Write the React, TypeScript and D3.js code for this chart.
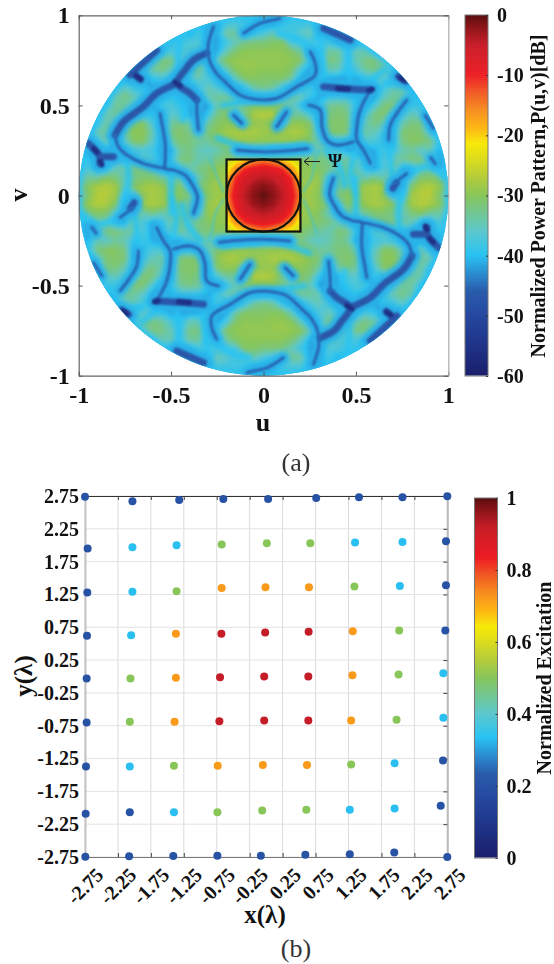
import React, { useEffect, useRef } from 'react';
import * as d3 from 'd3';

const FONT = '"Liberation Serif", "Times New Roman", serif';

// colormap stops (dB)
const cmapDb = [-60, -55, -50, -46, -43, -40, -36, -30, -27, -23, -21.5, -19, -16, -13, -10, -5, -2, 0];
const cmapColors = ['#1b1f6b', '#1f3388', '#25499f', '#2a5cab', '#2b8dd0', '#29c3f3', '#5cc7cc', '#88c65a', '#b5cc3a', '#e8e214', '#f7ea09', '#fdb913', '#f78f1e', '#f15a24', '#ed1c24', '#c81e28', '#8a1418', '#5a0f10'];

// my first reading of the lobes came out too dark, this pulls it back onto the colorbar
const readDepth = [27, 30, 36, 40, 44, 60];
const trueDepth = [27, 29, 32, 37, 41, 44];

// pattern depth in dB below peak, rows from v = 1 down to v = 0, step 0.05 in u and v
// short rows only hold the part inside the unit circle
const depthV100 = [44];
const depthV095 = [46,46,40,40,41,44,46,46,42,41,41,40,46];
const depthV090 = [44,41,46,44,37,37,46,42,40,38,40,41,39,38,44,48,50];
const depthV085 = [42,41,40,40,50,46,41,38,36,35,35,33,33,40,41,41,40,41,44,48,44];
const depthV080 = [50,44,40,40,40,39,48,44,38,34,31,31,31,31,31,33,37,47,42,37,37,41,38,38,42];
const depthV075 = [46,40,36,36,39,39,37,44,38,32,30,30,30,31,31,31,31,33,41,44,36,36,41,38,36,36,39];
const depthV070 = [46,41,37,36,38,44,38,36,42,46,38,32,30,30,31,31,31,33,40,46,42,38,38,42,40,37,36,37,41];
const depthV065 = [44,50,47,42,40,44,50,41,38,40,44,48,38,33,32,33,33,33,37,44,48,42,44,46,46,44,42,40,39,42,52];
const depthV060 = [42,39,41,42,47,47,48,50,44,41,38,40,43,47,42,37,36,37,41,48,43,41,44,50,51,50,46,46,50,41,38,39,44];
const depthV055 = [46,38,36,38,41,46,44,42,44,48,44,38,37,37,40,47,44,46,47,40,38,38,41,44,42,41,41,43,50,46,39,37,37,42,48];
const depthV050 = [42,37,37,40,44,46,41,40,42,47,52,46,38,35,37,36,32,32,32,34,38,42,47,42,37,36,37,42,48,40,35,35,40,42,41];
const depthV045 = [44,38,37,39,41,42,42,44,39,40,44,52,42,36,33,47,36,28,27,27,40,37,37,40,45,36,34,35,44,40,36,34,41,41,38,39,46];
const depthV040 = [42,37,40,38,33,33,40,50,37,35,38,47,37,33,31,31,39,30,30,35,47,31,30,33,44,34,33,34,44,38,36,38,47,38,35,36,46];
const depthV035 = [44,38,37,44,37,31,31,38,48,36,33,36,40,35,31,29,28,28,28,29,30,30,28,28,31,41,36,33,35,44,37,38,41,47,35,33,34,40,44];
const depthV030 = [42,42,38,47,39,33,33,39,48,38,34,35,37,37,34,31,30,30,30,31,31,30,30,31,34,38,42,42,42,46,40,40,42,46,36,33,33,36,41];
const depthV025 = [47,52,44,42,44,41,40,41,47,44,37,36,38,39,38,36,44,46,44,44,44,44,44,46,42,38,38,40,44,48,46,44,41,42,38,37,39,38,44];
const depthV020 = [42,42,48,46,41,45,40,38,40,44,42,36,35,38,37,36,33,33,33,33,33,33,33,33,33,33,35,36,38,37,38,44,48,40,38,37,35,36,40,46,44];
const depthV015 = [42,40,46,44,38,37,36,36,38,43,44,40,38,36,34,31,30,30,30,30,30,30,30,30,30,31,33,36,38,36,38,42,46,40,37,44,44,38,38,44,42];
const depthV010 = [40,37,37,33,35,38,36,34,34,37,38,38,44,38,33,30,30,30,30,30,30,30,30,30,30,31,30,40,36,35,37,38,36,38,38,48,40,34,33,36,40];
const depthV005 = [38,32,28,27,29,38,33,29,28,30,35,33,42,36,31,29,30,30,30,30,30,30,30,30,30,28,30,42,38,33,33,29,28,29,44,46,34,28,27,30,38];
const depthV000 = [40,33,27,27,29,42,42,31,28,29,33,33,36,40,32,29,30,30,30,30,30,30,30,30,30,29,32,40,36,33,33,29,28,31,42,42,29,27,27,33,40];

const upperRows = [depthV100, depthV095, depthV090, depthV085, depthV080, depthV075, depthV070, depthV065, depthV060, depthV055, depthV050, depthV045, depthV040, depthV035, depthV030, depthV025, depthV020, depthV015, depthV010, depthV005];

// main beam inside the square, u and v from -0.2 to 0.2
const beamV020 = [25,23,20,17,15,17,20,23,25];
const beamV015 = [23,16,11,9,8,9,11,16,23];
const beamV010 = [20,11,6.5,5,4,5,6.5,11,20];
const beamV005 = [17,9,5,2.5,1.5,2.5,5,9,17];
const beamV000 = [15,8,4,1.5,0,1.5,4,8,15];

// nulls of the pattern, too thin for the 0.05 grid: [u, v] along each valley, upper half
const thinNulls: number[][][] = [
  [[-0.27,0.937],[-0.298,0.844],[-0.298,0.77],[-0.262,0.687],[-0.208,0.631],[-0.126,0.557],[-0.036,0.533],[0.072,0.539],[0.18,0.604],[0.28,0.669],[0.28,0.733],[0.253,0.798]],
  [[-0.108,0.9],[-0.018,0.956],[0.054,0.974],[0.09,0.983]],
  [[-0.36,0.53],[-0.361,0.474],[-0.352,0.363]],
  [[-0.56,0.456],[-0.55,0.4],[-0.532,0.289],[-0.532,0.196],[-0.532,0.15],[-0.487,0.141],[-0.424,0.113],[-0.379,0.048],[-0.357,-0.007],[-0.379,-0.099]],
  [[-0.803,0.335],[-0.785,0.27],[-0.731,0.219],[-0.65,0.178],[-0.532,0.15]],
  [[-0.162,0.446],[-0.117,0.4]],
  [[-0.144,0.252],[0,0.243],[0.15,0.25],[0.24,0.26]],
  [[0.243,0.502],[0.307,0.474],[0.316,0.381],[0.343,0.307],[0.397,0.28],[0.487,0.298]],
  [[0.578,0.585],[0.523,0.474],[0.505,0.381],[0.505,0.307],[0.541,0.252],[0.578,0.178]],
  [[0.126,0.465],[0.072,0.381]],
  [[0.776,0.53],[0.722,0.456],[0.686,0.391],[0.677,0.307]],
  [[0.704,0.067],[0.776,0.122]],
  [[0.905,0.21],[0.93,0.175]],
  [[0.875,0.446],[0.92,0.372]],
];
const wideNulls: number[][][] = [
  [[-0.69,0.665],[-0.665,0.645]],
  [[-0.469,0.622],[-0.578,0.567],[-0.65,0.493],[-0.758,0.409],[-0.803,0.335]],
  [[-0.307,0.789],[-0.379,0.752],[-0.424,0.696],[-0.469,0.622],[-0.4,0.57],[-0.361,0.53]],
  [[-0.948,0.289],[-0.885,0.215],[-0.885,0.178]],
  [[-0.885,0.215],[-0.812,0.215]],
  [[-0.722,0.669],[-0.578,0.807]],
  [[0.325,0.928],[0.47,0.863]],
  [[0.325,0.604],[0.433,0.594],[0.578,0.585]],
  [[0.73,0.66],[0.77,0.635]],
  [[0.7,0.04],[0.72,0.07]],
];
// the deepest spots where valleys meet
const deepSpots: number[][][] = [
  [[-0.69,0.665],[-0.665,0.645]],
  [[-0.48,0.63],[-0.45,0.61]],
  [[-0.92,0.26],[-0.9,0.24]],
  [[-0.885,0.19],[-0.875,0.17]],
  [[0.4,0.595],[0.46,0.59]],
  [[0.57,0.585],[0.59,0.59]],
  [[0.74,0.655],[0.76,0.64]],
];
// valleys that stay light blue, they only ring the lobes
const paleNulls: number[][][] = [
  [[0.46,0.86],[0.46,0.74],[0.47,0.62]],
  [[0.3,0.9],[0.31,0.8],[0.33,0.65]],
  [[0.08,0.9],[0.2,0.86],[0.26,0.8]],
  [[0.66,0.7],[0.58,0.63],[0.55,0.5]],
  [[0.72,0.62],[0.66,0.62]],
  [[0.5,0.25],[0.47,0.12],[0.5,0]],
  [[0.68,0.3],[0.69,0.15],[0.72,0.04]],
  [[0.8,0.13],[0.9,0.16],[0.98,0.1]],
  [[-0.88,0.52],[-0.74,0.72],[-0.62,0.84]],
  [[-0.66,0.52],[-0.52,0.58],[-0.42,0.52],[-0.44,0.42]],
  [[-0.45,0.9],[-0.46,0.72],[-0.42,0.62]],
  [[-0.74,0.2],[-0.73,0.08],[-0.76,-0.04]],
  [[-0.5,0.14],[-0.5,0.02],[-0.5,-0.1]],
  [[-0.22,0.5],[-0.06,0.53]],
  [[-0.25,0.32],[-0.1,0.26]],
  [[0.03,0.26],[0.22,0.28]],
  [[0.34,0.25],[0.41,0.16],[0.44,0.05]],
];
// pale seam next to the square
const paleSeams: number[][][] = [
  [[-0.217,0.025],[-0.25,0.1],[-0.27,0.155],[-0.29,0.21]],
  [[0.217,0.025],[0.26,0.1],[0.28,0.2],[0.3,0.25]],
];

const patternTicks = [-1, -0.5, 0, 0.5, 1];
const dbTicks = [0, -10, -20, -30, -40, -50, -60];

// array element positions in wavelengths, one row per y
const elemX = [
  [-2.75,-2.03,-1.32,-0.65,0.03,0.76,1.41,2.07,2.75],
  [-2.71,-2.03,-1.36,-0.675,0.01,0.67,1.35,2.07,2.73],
  [-2.715,-2.03,-1.36,-0.675,-0.01,0.65,1.34,2.03,2.73],
  [-2.72,-2.05,-1.37,-0.68,-0.015,0.645,1.315,2.02,2.72],
  [-2.725,-2.06,-1.37,-0.70,-0.03,0.64,1.31,2.01,2.69],
  [-2.725,-2.07,-1.39,-0.71,-0.03,0.64,1.29,1.98,2.69],
  [-2.735,-2.07,-1.40,-0.735,-0.05,0.62,1.29,1.95,2.685],
  [-2.74,-2.07,-1.40,-0.74,-0.06,0.61,1.27,1.95,2.65],
  [-2.745,-2.08,-1.41,-0.74,-0.08,0.595,1.27,1.945,2.75],
];
const elemY = [
  [2.74,2.67,2.69,2.705,2.705,2.72,2.73,2.73,2.745],
  [1.95,1.97,2.0,2.01,2.03,2.03,2.04,2.05,2.06],
  [1.28,1.29,1.30,1.35,1.36,1.36,1.37,1.38,1.39],
  [0.62,0.63,0.65,0.65,0.67,0.68,0.69,0.70,0.70],
  [-0.03,-0.03,-0.02,-0.01,0.0,0.0,0.02,0.03,0.05],
  [-0.70,-0.69,-0.69,-0.68,-0.67,-0.67,-0.67,-0.66,-0.63],
  [-1.37,-1.37,-1.36,-1.36,-1.35,-1.35,-1.34,-1.32,-1.28],
  [-2.09,-2.07,-2.07,-2.07,-2.04,-2.03,-2.03,-2.01,-1.97],
  [-2.745,-2.74,-2.735,-2.73,-2.73,-2.715,-2.71,-2.68,-2.75],
];
const elemExc = [
  [0.2,0.2,0.2,0.2,0.2,0.2,0.2,0.2,0.2],
  [0.2,0.33,0.33,0.5,0.5,0.5,0.33,0.33,0.2],
  [0.2,0.33,0.5,0.72,0.72,0.72,0.5,0.33,0.2],
  [0.2,0.33,0.72,0.92,0.92,0.92,0.72,0.5,0.2],
  [0.2,0.5,0.72,0.92,0.92,0.92,0.72,0.5,0.33],
  [0.2,0.5,0.72,0.92,0.92,0.92,0.72,0.5,0.33],
  [0.2,0.33,0.5,0.72,0.72,0.72,0.5,0.33,0.2],
  [0.2,0.2,0.33,0.5,0.5,0.5,0.33,0.33,0.2],
  [0.2,0.2,0.2,0.2,0.2,0.2,0.2,0.2,0.2],
];
const lambdaTicks = [-2.75,-2.25,-1.75,-1.25,-0.75,-0.25,0.25,0.75,1.25,1.75,2.25,2.75];
const excTicks = [0, 0.2, 0.4, 0.6, 0.8, 1];

function padRow(row: number[], n: number, fill: number) {
  const side = (n - row.length) / 2;
  return [...Array(side).fill(fill), ...row, ...Array(side).fill(fill)];
}

// the pattern of a real excitation is point symmetric, so the lower half is the upper one turned round
function patternGrid() {
  const fix = d3.scaleLinear().domain(readDepth).range(trueDepth);
  const upper = upperRows.map(r => padRow(r, 41, 42));
  const lower = upper.slice().reverse().map(r => r.slice().reverse());
  return [...upper, depthV000, ...lower].flat().map(d => -fix(d));
}

function beamGrid() {
  const upper = [beamV020, beamV015, beamV010, beamV005];
  return [...upper, beamV000, ...upper.slice().reverse()].flat().map(d => -d);
}

export default function App() {
  const ref = useRef<SVGSVGElement>(null);

  useEffect(() => {
    const svg = d3.select(ref.current);
    svg.selectAll('*').remove();

    const dbColor = d3.scaleLinear<string>().domain(cmapDb).range(cmapColors).clamp(true);
    const excColor = (e: number) => dbColor(e * 60 - 60);

    const defs = svg.append('defs');
    const blur = (id: string, sd: number) => defs.append('filter').attr('id', id)
      .attr('filterUnits', 'userSpaceOnUse').attr('x', 60).attr('y', 0).attr('width', 410).attr('height', 400)
      .append('feGaussianBlur').attr('stdDeviation', sd);
    blur('soft', 1.4);
    blur('halo', 2);
    blur('mid', 1.2);
    blur('core', 0.8);

    // ---- (a) power pattern
    const u = d3.scaleLinear().domain([-1, 1]).range([78.7, 448.3]);
    const v = d3.scaleLinear().domain([-1, 1]).range([375.7, 15.3]);

    defs.append('clipPath').attr('id', 'disk').append('ellipse')
      .attr('cx', u(0)).attr('cy', v(0)).attr('rx', u(1) - u(0)).attr('ry', v(0) - v(1));
    defs.append('clipPath').attr('id', 'square').append('rect')
      .attr('x', u(-0.2)).attr('y', v(0.2)).attr('width', u(0.2) - u(-0.2)).attr('height', v(-0.2) - v(0.2));

    const thresholds = d3.range(-60, 0.25, 0.5);
    const drawField = (g: any, values: number[], n: number, u0: number, step: number) => {
      const project = d3.geoTransform({
        point(x: number, y: number) {
          (this as any).stream.point(u(u0 + (x - 0.5) * step), v(-u0 - (y - 0.5) * step));
        },
      });
      const path = d3.geoPath(project);
      g.selectAll('path')
        .data(d3.contours().size([n, n]).smooth(true).thresholds(thresholds)(values))
        .join('path')
        .attr('d', path as any)
        .attr('fill', (d: any) => dbColor(d.value));
    };

    const disk = svg.append('g').attr('clip-path', 'url(#disk)');
    disk.append('rect').attr('x', u(-1)).attr('y', v(1)).attr('width', u(1) - u(-1)).attr('height', v(-1) - v(1)).attr('fill', dbColor(-42));
    drawField(disk.append('g').attr('filter', 'url(#soft)'), patternGrid(), 41, -1, 0.05);

    // nulls, each one also turned round for the lower half
    const nullLine = d3.line<number[]>().x(d => u(d[0])).y(d => v(d[1])).curve(d3.curveCatmullRom.alpha(0.5));
    const both = (lines: number[][][]) => lines.flatMap(l => [l, l.map(p => [-p[0], -p[1]])]);
    const strokeNulls = (lines: number[][][], color: string, width: number, filter: string, opacity = 1) => {
      disk.append('g').attr('filter', `url(#${filter})`).attr('fill', 'none').attr('stroke-linecap', 'round').attr('stroke-linejoin', 'round')
        .selectAll('path').data(both(lines)).join('path')
        .attr('d', d => nullLine(d)).attr('stroke', color).attr('stroke-width', width).attr('opacity', opacity);
    };
    // light rim just inside the edge of the visible region
    disk.append('ellipse').attr('cx', u(0)).attr('cy', v(0)).attr('rx', u(1) - u(0)).attr('ry', v(0) - v(1))
      .attr('fill', 'none').attr('stroke', dbColor(-40)).attr('stroke-width', 6).attr('filter', 'url(#halo)').attr('opacity', 0.7);
    strokeNulls(paleSeams, dbColor(-40), 2.2, 'core', 0.5);
    strokeNulls(paleNulls, dbColor(-40), 6, 'halo', 0.9);
    strokeNulls(wideNulls, dbColor(-41), 17, 'halo');
    strokeNulls(thinNulls, dbColor(-41), 11, 'halo');
    strokeNulls(wideNulls, dbColor(-47), 7, 'mid');
    strokeNulls(thinNulls, dbColor(-44), 3, 'mid');
    strokeNulls(thinNulls, dbColor(-50), 1.1, 'core');
    strokeNulls(deepSpots, dbColor(-56), 5, 'mid');

    const beam = svg.append('g').attr('clip-path', 'url(#square)');
    drawField(beam.append('g'), beamGrid(), 9, -0.2, 0.05);

    const labelStyle = (g: any, size: number) => g.selectAll('text')
      .attr('font-family', FONT).attr('font-weight', 'bold').attr('font-size', size).attr('fill', '#111');

    const gA = svg.append('g');
    const axisA = (gen: any, dx: number, dy: number) => {
      const g = gA.append('g').attr('transform', `translate(${dx},${dy})`).call(gen);
      g.select('.domain').attr('stroke', '#666').attr('stroke-width', 1.2);
      g.selectAll('line').attr('stroke', '#555');
      return g;
    };
    const fmt = (d: any) => String(d);
    labelStyle(axisA(d3.axisLeft(v).tickValues(patternTicks).tickSize(-4).tickPadding(9).tickSizeOuter(0).tickFormat(fmt), u(-1), 0), 24);
    labelStyle(axisA(d3.axisBottom(u).tickValues(patternTicks).tickSize(-4).tickPadding(10).tickSizeOuter(0).tickFormat(fmt), 0, v(-1)), 24);
    axisA(d3.axisTop(u).tickValues(patternTicks).tickSize(-4).tickSizeOuter(0).tickFormat(() => ''), 0, v(1));
    axisA(d3.axisRight(v).tickValues(patternTicks).tickSize(-4).tickSizeOuter(0).tickFormat(() => ''), u(1), 0)
      .select('.domain').attr('stroke', '#aaa');

    // square and circle round the main beam
    svg.append('rect').attr('x', u(-0.2)).attr('y', v(0.2)).attr('width', u(0.2) - u(-0.2)).attr('height', v(-0.2) - v(0.2))
      .attr('fill', 'none').attr('stroke', '#111').attr('stroke-width', 2.2);
    svg.append('ellipse').attr('cx', u(0)).attr('cy', v(0)).attr('rx', u(0.2) - u(0)).attr('ry', v(0) - v(0.2))
      .attr('fill', 'none').attr('stroke', '#111').attr('stroke-width', 2.2);

    // Psi marker
    svg.append('path').attr('d', 'M320,161.5H304M309,157.5L304,161.5L309,165.5').attr('fill', 'none').attr('stroke', '#222').attr('stroke-width', 1);
    svg.append('text').attr('x', 335).attr('y', 167).attr('text-anchor', 'middle').attr('font-family', FONT)
      .attr('font-weight', 'bold').attr('font-size', 18).attr('fill', '#111').text('Ψ');

    const text = (s: string, x: number, y: number, size: number, rot = 0, weight = 'bold') =>
      svg.append('text').attr('transform', `translate(${x},${y}) rotate(${rot})`).attr('text-anchor', 'middle')
        .attr('font-family', FONT).attr('font-weight', weight).attr('font-size', size).attr('fill', '#111').text(s);

    text('u', 263, 431, 26);
    text('v', 27, 195, 26, -90);
    text('(a)', 296, 471, 26, 0, 'normal').attr('fill', '#333');

    // colorbars
    const colorbar = (scale: any, color: (d: number) => string, domain: number[], x0: number, x1: number, ticks: number[], size: number) => {
      const n = 180;
      d3.range(n).forEach(i => {
        const a = domain[0] + (domain[1] - domain[0]) * (i + 0.5) / n;
        const b = domain[0] + (domain[1] - domain[0]) * (i + 1.5) / n;
        svg.append('rect').attr('x', x0).attr('width', x1 - x0)
          .attr('y', scale(Math.min(b, domain[1]))).attr('height', Math.abs(scale(a) - scale(b)) + 0.6)
          .attr('fill', color(a));
      });
      svg.append('rect').attr('x', x0).attr('y', scale(domain[1])).attr('width', x1 - x0)
        .attr('height', scale(domain[0]) - scale(domain[1])).attr('fill', 'none').attr('stroke', '#777');
      const g = svg.append('g').attr('transform', `translate(${x1},0)`)
        .call(d3.axisRight(scale).tickValues(ticks).tickSize(-2).tickPadding(9).tickSizeOuter(0).tickFormat(fmt));
      g.select('.domain').remove();
      g.selectAll('line').attr('stroke', '#333');
      labelStyle(g, size);
    };
    const dbScale = d3.scaleLinear().domain([-60, 0]).range([376, 15]);
    colorbar(dbScale, d => dbColor(d), [-60, 0], 465, 488, dbTicks, 20);
    text('Normalized Power Pattern,P(u,v)[dB]', 545, 196, 20, -90);

    // ---- (b) excitation
    const x = d3.scaleLinear().domain([-2.75, 2.75]).range([85, 447.3]);
    const y = d3.scaleLinear().domain([-2.75, 2.75]).range([857, 496]);

    const gB = svg.append('g');
    gB.append('g').selectAll('line').data(lambdaTicks).join('line')
      .attr('x1', d => x(d)).attr('x2', d => x(d)).attr('y1', y(-2.75)).attr('y2', y(2.75)).attr('stroke', '#dcdcdc');
    gB.append('g').selectAll('line').data(lambdaTicks).join('line')
      .attr('y1', d => y(d)).attr('y2', d => y(d)).attr('x1', x(-2.75)).attr('x2', x(2.75)).attr('stroke', '#e2e2e2');

    const axisB = (gen: any, dx: number, dy: number, stroke: string, w: number) => {
      const g = gB.append('g').attr('transform', `translate(${dx},${dy})`).call(gen);
      g.select('.domain').attr('stroke', stroke).attr('stroke-width', w);
      g.selectAll('line').attr('stroke', '#444');
      return g;
    };
    const left = axisB(d3.axisLeft(y).tickValues(lambdaTicks).tickSize(0).tickPadding(6).tickSizeOuter(0).tickFormat(fmt), x(-2.75), 0, '#c4c4c4', 2);
    labelStyle(left, 20);
    const bottom = axisB(d3.axisBottom(x).tickValues(lambdaTicks).tickSize(-4).tickPadding(11).tickSizeOuter(0).tickFormat(fmt), 0, y(-2.75), '#777', 1.2);
    labelStyle(bottom, 20);
    bottom.selectAll('text').attr('text-anchor', 'end').attr('transform', 'rotate(-45) translate(0,2)').attr('dy', '0.7em');
    axisB(d3.axisTop(x).tickValues(lambdaTicks).tickSize(-4).tickSizeOuter(0).tickFormat(() => ''), 0, y(2.75), '#333', 1.2);
    axisB(d3.axisRight(y).tickValues(lambdaTicks).tickSize(-4).tickSizeOuter(0).tickFormat(() => ''), x(2.75), 0, '#bbb', 2);

    const elements = elemX.flatMap((row, i) => row.map((ex, j) => ({ ex, ey: elemY[i][j], e: elemExc[i][j] })));
    gB.append('g').selectAll('circle').data(elements).join('circle')
      .attr('cx', d => x(d.ex)).attr('cy', d => y(d.ey)).attr('r', 4)
      .attr('fill', d => excColor(d.e));

    const excScale = d3.scaleLinear().domain([0, 1]).range([858, 498]);
    colorbar(excScale, excColor, [0, 1], 474.5, 497.5, excTicks, 20);
    text('Normalized Excitation', 551, 678, 20, -90);

    text('x(λ)', 265, 923, 25);
    text('y(λ)', 32, 676, 25, -90);
    text('(b)', 296, 957, 26, 0, 'normal').attr('fill', '#333');
  }, []);

  return <svg ref={ref} width={554} height={964} style={{ position: 'absolute', left: 0, top: 0, background: '#fff' }} />;
}
